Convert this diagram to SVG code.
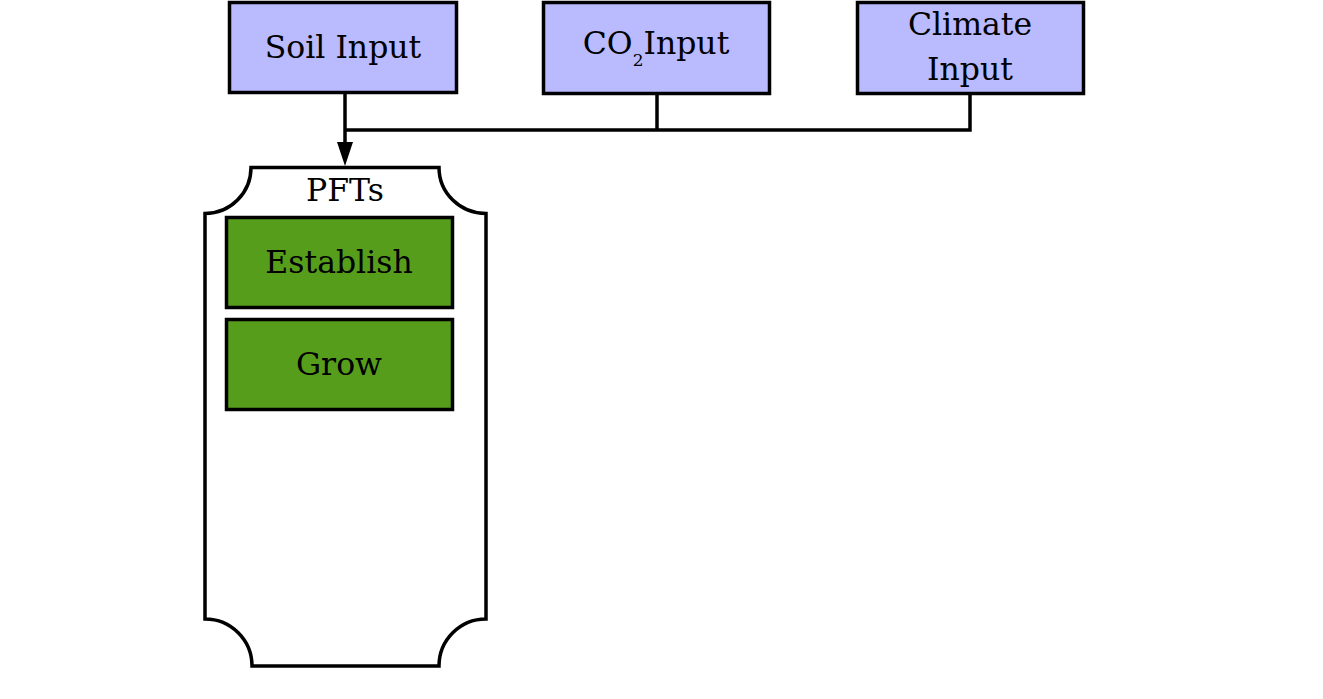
<svg xmlns="http://www.w3.org/2000/svg" width="1323" height="699" viewBox="0 0 1323 699">
<style>
.inp{fill:#babaff;stroke:#000;stroke-width:3.5}
.proc{fill:#579d1c;stroke:#000;stroke-width:3.5}
.cont{fill:#fff;stroke:#000;stroke-width:3.5}
text{font-family:"DejaVu Serif","Liberation Serif",serif;font-size:31.5px;fill:#000;text-anchor:middle}
.con{fill:none;stroke:#000;stroke-width:3.5}
</style>
<rect width="1323" height="699" fill="#fff"/>
<g id="connectors">
<path class="con" d="M345,93 V145"/>
<path class="con" d="M345,130 H970 V93 M657,93 V130"/>
<path d="M337,142 L353,142 L345,166 Z" fill="#000"/>
</g>
<g id="soil">
<rect class="inp" x="229.5" y="2.5" width="227" height="90"/>
<text x="343" y="58">Soil Input</text>
</g>
<g id="co2">
<rect class="inp" x="543.5" y="2.5" width="226" height="91"/>
<text x="656" y="54">CO<tspan font-size="17" dy="12">2</tspan><tspan dy="-12">Input</tspan></text>
</g>
<g id="climate">
<rect class="inp" x="857.5" y="2.5" width="226" height="91"/>
<text x="970" y="35">Climate</text>
<text x="970" y="80">Input</text>
</g>
<g id="pfts">
<path class="cont" d="M251,167.5 H439 A47,46 0 0 0 486,213.5 V619 A47,47 0 0 0 439,666 H252 A47,47 0 0 0 205,619 V213.5 A46,46 0 0 0 251,167.5 Z"/>
<text x="345" y="201">PFTs</text>
</g>
<g id="establish">
<rect class="proc" x="226.5" y="217.5" width="226" height="90"/>
<text x="339" y="273">Establish</text>
</g>
<g id="grow">
<rect class="proc" x="226.5" y="319.5" width="226" height="90"/>
<text x="339" y="375">Grow</text>
</g>
</svg>
